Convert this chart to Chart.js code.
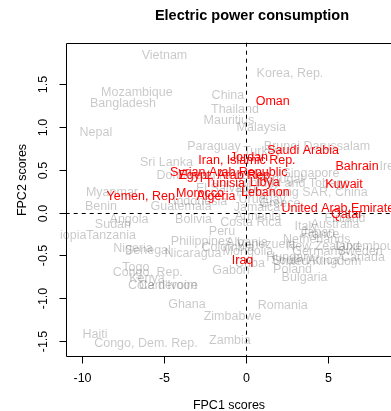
<!DOCTYPE html>
<html>
<head>
<meta charset="utf-8">
<script src="https://cdn.jsdelivr.net/npm/chart.js@4.4.1/dist/chart.umd.min.js"></script>
<style>
  html, body { margin: 0; padding: 0; background: #fff; overflow: hidden; }
  canvas { display: block; }
</style>
</head>
<body>
<canvas id="chart" width="391" height="411"></canvas>
<script>
// Countries plotted by their first two functional principal component scores
const countries = [
  'Vietnam', 'Korea, Rep.', 'Mozambique', 'Bangladesh', 'China', 'Thailand', 'Mauritius',
  'Malaysia', 'Nepal', 'Paraguay', 'Turkey', 'Brunei Darussalam', 'Sri Lanka', 'Ireland',
  'Singapore', 'Portugal', 'Trinidad and Tobago', 'Hong Kong SAR, China', 'Dominican Republic',
  'El Salvador', 'Uruguay', 'Greece', 'Jamaica', 'Indonesia', 'Guatemala', 'Myanmar', 'Benin',
  'Sudan', 'Angola', 'Ethiopia', 'Tanzania', 'Nigeria', 'Senegal', 'Philippines', 'Nicaragua',
  'Bolivia', 'Peru', 'Colombia', 'Albania', 'Costa Rica', 'Mongolia', 'Cuba', 'Gabon',
  'Venezuela', 'Netherlands', 'Italy', 'Australia', 'Finland', 'France', 'Japan', 'New Zealand',
  'Luxembourg', 'Germany', 'Sweden', 'Hungary', 'Canada', 'United Kingdom', 'South Africa',
  'Poland', 'Bulgaria', 'Romania', 'Zimbabwe', 'Ghana', 'Zambia', 'Haiti', 'Congo, Dem. Rep.',
  'Togo', 'Congo, Rep.', 'Kenya', "Côte d'Ivoire", 'Cameroon', 'Armenia',
  'Oman', 'Saudi Arabia', 'Bahrain', 'Kuwait', 'United Arab Emirates', 'Qatar',
  'Iran, Islamic Rep.', 'Jordan', 'Syrian Arab Republic', 'Egypt, Arab Rep.', 'Tunisia',
  'Libya', 'Lebanon', 'Morocco', 'Algeria', 'Yemen, Rep.', 'Iraq'
];
const fpc1Scores = [
  -4.97, 2.68, -6.65, -7.50, -1.10, -0.67, -1.04,
  0.93, -9.15, -1.95, 0.98, 4.33, -4.85, 9.30,
  3.96, 2.07, 2.87, 3.41, -2.07,
  -1.10, 0.98, 2.07, 0.67, -2.80, -3.96, -8.17, -8.84,
  -8.11, -7.13, -11.10, -8.23, -6.89, -5.98, -2.74, -3.23,
  -3.20, -1.46, -1.10, 0.06, 0.30, 0.12, 0.24, -0.91,
  1.22, 4.31, 3.66, 5.43, 6.04, 4.51, 4.39, 4.70,
  7.56, 4.39, 6.95, 2.68, 7.13, 4.33, 3.60,
  2.84, 3.57, 2.24, -0.82, -3.60, -0.98, -9.21, -6.10,
  -6.71, -5.99, -6.04, -5.06, -4.76, 0.73,
  1.63, 3.48, 6.77, 5.98, 5.79, 6.14,
  0.06, 0.18, -1.05, -1.22, -1.28,
  1.14, 1.18, -2.80, -1.83, -6.31, -0.21
];
const fpc2Scores = [
  1.84, 1.63, 1.40, 1.28, 1.365, 1.21, 1.08,
  1.00, 0.94, 0.77, 0.71, 0.77, 0.59, 0.54,
  0.46, 0.39, 0.34, 0.23, 0.44,
  0.28, 0.15, 0.11, 0.055, 0.125, 0.07, 0.23, 0.067,
  -0.144, -0.085, -0.27, -0.27, -0.416, -0.448, -0.34, -0.475,
  -0.077, -0.222, -0.405, -0.35, -0.117, -0.456, -0.59, -0.68,
  -0.37, -0.31, -0.164, -0.144, -0.065, -0.25, -0.237, -0.40,
  -0.40, -0.45, -0.46, -0.52, -0.53, -0.573, -0.565,
  -0.67, -0.76, -1.09, -1.22, -1.08, -1.50, -1.43, -1.53,
  -0.64, -0.70, -0.77, -0.85, -0.85, -0.04,
  1.30, 0.73, 0.54, 0.33, 0.05, -0.027,
  0.61, 0.64, 0.47, 0.43, 0.34,
  0.35, 0.234, 0.227, 0.187, 0.187, -0.56
];
// Middle East and North Africa, shown in red
const highlighted = [
  'Oman', 'Saudi Arabia', 'Bahrain', 'Kuwait', 'United Arab Emirates', 'Qatar',
  'Iran, Islamic Rep.', 'Jordan', 'Syrian Arab Republic', 'Egypt, Arab Rep.', 'Tunisia',
  'Libya', 'Lebanon', 'Morocco', 'Algeria', 'Yemen, Rep.', 'Iraq'
];
const xTicks = [-10, -5, 0, 5];
const xTickLabels = ['-10', '-5', '0', '5'];
const yTicks = [-1.5, -1, -0.5, 0, 0.5, 1, 1.5];
const yTickLabels = ['-1.5', '-1.0', '-0.5', '0.0', '0.5', '1.0', '1.5'];
const chartTitle = 'Electric power consumption';
const xTitle = 'FPC1 scores';
const yTitle = 'FPC2 scores';

const FONT = '"Liberation Sans", Arial, Helvetica, sans-serif';
const GRAY = 'rgba(0,0,0,0.22)';
const RED = '#ff0000';

function points(keepRed) {
  const out = [];
  countries.forEach((name, i) => {
    if (highlighted.includes(name) === keepRed) {
      out.push({ x: fpc1Scores[i], y: fpc2Scores[i], label: name });
    }
  });
  return out;
}

// Draws each country name centred on its point, plus an R-style frame and axes
const textLabels = {
  id: 'textLabels',
  afterDatasetsDraw(chart) {
    const ctx = chart.ctx;
    const a = chart.chartArea;
    const xs = chart.scales.x, ys = chart.scales.y;
    ctx.save();

    // reference lines at zero
    ctx.strokeStyle = '#000';
    ctx.lineWidth = 1;
    ctx.setLineDash([4, 4]);
    const x0 = Math.round(xs.getPixelForValue(0)) + 0.5;
    const y0 = Math.round(ys.getPixelForValue(0)) + 0.5;
    ctx.beginPath();
    ctx.moveTo(x0, a.top); ctx.lineTo(x0, a.bottom);
    ctx.moveTo(a.left, y0); ctx.lineTo(a.right + 2, y0);
    ctx.stroke();
    ctx.setLineDash([]);

    // labels, clipped a little outside the plotting region
    ctx.save();
    ctx.beginPath();
    ctx.rect(a.left - 6, a.top - 6, a.right - a.left + 12, a.bottom - a.top + 12);
    ctx.clip();
    ctx.font = '12.5px ' + FONT;
    ctx.textAlign = 'center';
    ctx.textBaseline = 'middle';
    chart.data.datasets.forEach((ds, di) => {
      const meta = chart.getDatasetMeta(di);
      ctx.fillStyle = ds.textColor;
      meta.data.forEach((el, i) => {
        ctx.fillText(ds.data[i].label, el.x, el.y);
      });
    });
    ctx.restore();

    // frame (open on the right, where the plot runs past the canvas)
    const L = Math.round(a.left) + 0.5, T = Math.round(a.top) + 0.5, B = Math.round(a.bottom) + 0.5;
    ctx.strokeStyle = '#000';
    ctx.beginPath();
    ctx.moveTo(a.right + 2, T); ctx.lineTo(L, T); ctx.lineTo(L, B); ctx.lineTo(a.right + 2, B);
    ctx.stroke();

    // x axis ticks
    ctx.fillStyle = '#000';
    ctx.font = '12.5px ' + FONT;
    ctx.textAlign = 'center';
    ctx.textBaseline = 'middle';
    xTicks.forEach((v, i) => {
      const px = Math.round(xs.getPixelForValue(v)) + 0.5;
      ctx.beginPath(); ctx.moveTo(px, B); ctx.lineTo(px, B + 7); ctx.stroke();
      ctx.fillText(xTickLabels[i], px, 378.5);
    });
    // y axis ticks, labels turned to read upwards
    yTicks.forEach((v, i) => {
      const py = Math.round(ys.getPixelForValue(v)) + 0.5;
      ctx.beginPath(); ctx.moveTo(L, py); ctx.lineTo(L - 7, py); ctx.stroke();
      ctx.save();
      ctx.translate(43.5, py);
      ctx.rotate(-Math.PI / 2);
      ctx.fillText(yTickLabels[i], 0, 0);
      ctx.restore();
    });

    // titles
    ctx.fillText(xTitle, 229, 406);
    ctx.save();
    ctx.translate(23, 180);
    ctx.rotate(-Math.PI / 2);
    ctx.fillText(yTitle, 0, 0);
    ctx.restore();
    ctx.font = 'bold 14.5px ' + FONT;
    ctx.fillText(chartTitle, 252, 15.5);

    ctx.restore();
  }
};

new Chart(document.getElementById('chart'), {
  type: 'scatter',
  data: {
    datasets: [
      { data: points(false), textColor: GRAY, pointRadius: 0, pointHoverRadius: 0 },
      { data: points(true), textColor: RED, pointRadius: 0, pointHoverRadius: 0 }
    ]
  },
  options: {
    responsive: false,
    animation: false,
    events: [],
    layout: { padding: { left: 65.7, top: 42.7, right: 0, bottom: 55 } },
    scales: {
      x: { type: 'linear', min: -10.99, max: 8.84, display: false },
      y: { type: 'linear', min: -1.676, max: 1.988, display: false }
    },
    plugins: { legend: { display: false }, tooltip: { enabled: false }, title: { display: false } }
  },
  plugins: [textLabels]
});
</script>
</body>
</html>
